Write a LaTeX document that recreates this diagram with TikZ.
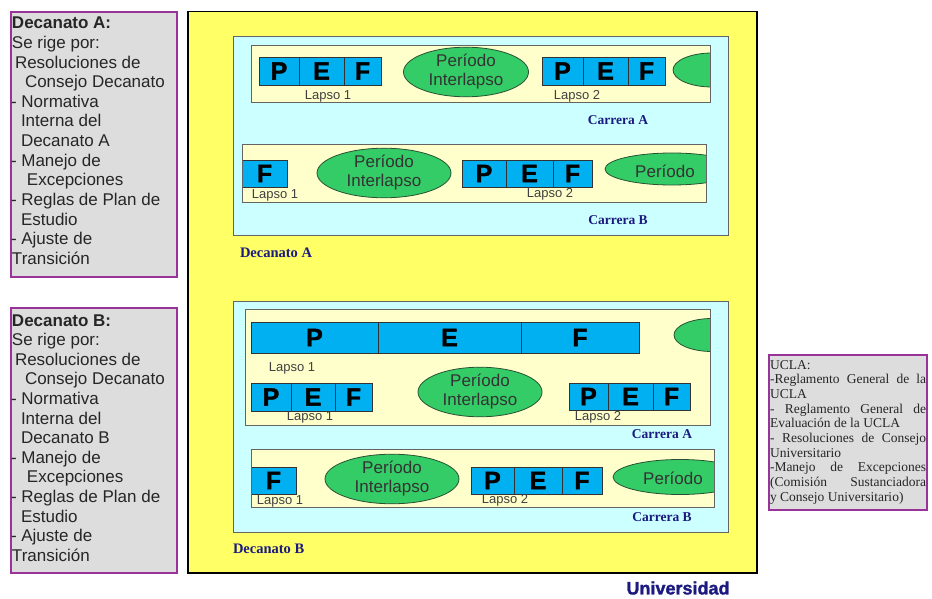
\documentclass[tikz,border=0pt]{standalone}
\usepackage{fontspec}
\setmainfont{Liberation Sans}
\newfontfamily\serifx{Liberation Serif}
\newfontfamily\heavyfont[FakeBold=1.5]{Liberation Sans}
\usetikzlibrary{shapes.geometric}

\definecolor{yel}{RGB}{255,255,102}
\definecolor{cyanl}{RGB}{204,255,255}
\definecolor{cream}{RGB}{255,255,204}
\definecolor{cellblue}{RGB}{0,176,240}
\definecolor{ovalgreen}{RGB}{51,204,102}
\definecolor{ovaledge}{RGB}{40,80,50}
\definecolor{boxgray}{RGB}{221,221,221}
\definecolor{purp}{RGB}{153,51,153}
\definecolor{navy}{RGB}{26,26,128}
\definecolor{edgegray}{RGB}{100,100,100}

\tikzset{
  every node/.style={inner sep=0pt, outer sep=0pt},
  rulebox/.style={draw=purp, line width=1.5pt, fill=boxgray},
  univbox/.style={fill=yel, draw=black, line width=1pt},
  decbox/.style={fill=cyanl, draw=edgegray, line width=0.8pt},
  strip/.style={fill=cream, draw=edgegray, line width=0.8pt},
  stripedge/.style={draw=edgegray, line width=0.8pt},
  cell/.style={fill=cellblue, draw=black!80, line width=0.6pt, font=\heavyfont\bfseries\fontsize{25}{25}\selectfont},
  oval/.style={ellipse, fill=ovalgreen, draw=ovaledge, line width=0.8pt, align=center, text=black!80, font=\fontsize{17}{19}\selectfont},
  ovaltext/.style={text=black!80, font=\fontsize{17}{19}\selectfont},
  lapso/.style={text=black!75, font=\fontsize{13}{13}\selectfont},
  carrera/.style={text=navy, font=\serifx\bfseries\fontsize{13.5}{13.5}\selectfont},
  declabel/.style={text=navy, font=\serifx\bfseries\fontsize{14.5}{14.5}\selectfont, anchor=west},
  ruletext/.style={text=black!85, font=\fontsize{17}{19.6}\selectfont, anchor=base west},
  uclatext/.style={text=black!85, font=\serifx\fontsize{13.5}{14.7}\selectfont, anchor=base west},
  univlabel/.style={text=navy, font=\heavyfont\bfseries\fontsize{18}{18}\selectfont}
}

\newcommand\rnode[6]{\node[#1, anchor=north west, minimum width={(#4)-(#2)}, minimum height={(#5)-(#3)}] (#6) at (#2,#3) {};}
\newcommand\cellnode[6]{\node[cell, anchor=north west, minimum width={(#3)-(#2)}, minimum height={(#5)-(#4)}] (#1) at (#2,#4) {#6};}
\newcommand\pefrow[7]{\cellnode{#1p}{#2}{#3}{#6}{#7}{P}\cellnode{#1e}{#3}{#4}{#6}{#7}{E}\cellnode{#1f}{#4}{#5}{#6}{#7}{F}}

\begin{document}
\begin{tikzpicture}[x=1pt,y=-1pt]
\useasboundingbox (0,0) rectangle (932,599);

% ---------- left rule boxes ----------
\rnode{rulebox}{11}{12}{177}{277}{ruleA}
\foreach \dx/\t [count=\i] in {12/{\bfseries Decanato A:}, 12/{Se rige por:}, 15/{Resoluciones de}, 25/{Consejo Decanato}, 11/{- Normativa}, 21/{Interna del}, 21/{Decanato A}, 11/{- Manejo de}, 27/{Excepciones}, 11/{- Reglas de Plan de}, 21/{Estudio}, 11/{- Ajuste de}, 12/{Transición}}
  \node[ruletext] (ta\i) at (\dx, {29+19.6*(\i-1)}) {\t};

\rnode{rulebox}{11}{308}{177}{573}{ruleB}
\foreach \dx/\t [count=\i] in {12/{\bfseries Decanato B:}, 12/{Se rige por:}, 15/{Resoluciones de}, 25/{Consejo Decanato}, 11/{- Normativa}, 21/{Interna del}, 21/{Decanato B}, 11/{- Manejo de}, 27/{Excepciones}, 11/{- Reglas de Plan de}, 21/{Estudio}, 11/{- Ajuste de}, 12/{Transición}}
  \node[ruletext] (tb\i) at (\dx, {326+19.6*(\i-1)}) {\t};

% ---------- university box ----------
\rnode{univbox}{188}{12}{757}{573}{univ}
\draw[line width=2.5pt, line cap=rect] (univ.north east) -- (univ.south east) -- (univ.south west) -- (univ.north west);
\node[univlabel] (univlab) at (678,588) {Universidad};

% ================= Decanato A =================
\rnode{decbox}{233}{36}{728}{235}{decA}
\node[declabel] (decAlab) at (240,253) {Decanato A};

% Carrera A
\rnode{strip}{251}{45}{710}{102}{sA1}
\pefrow{a1l1}{259}{299}{344}{381}{57}{85}
\node[lapso] (a1lap1) at (328,96) {Lapso 1};
\node[oval, minimum width=125, minimum height=48] (a1int) at (466,72) {Período\\Interlapso};
\pefrow{a1l2}{542}{583}{628}{665}{57}{85}
\node[lapso] (a1lap2) at (577,96) {Lapso 2};
\begin{scope}
  \clip (sA1.north west) rectangle (sA1.south east);
  \node[oval, minimum width=78, minimum height=34] (a1half) at (712,70) {};
\end{scope}
\draw[stripedge] (sA1.north west) rectangle (sA1.south east);
\node[carrera] (a1car) at (618,120) {Carrera A};

% Carrera B
\rnode{strip}{242}{144}{706}{202}{sA2}
\cellnode{a2f}{242}{287}{160}{187}{F}
\node[lapso] (a2lap1) at (275,195) {Lapso 1};
\node[oval, minimum width=134, minimum height=48] (a2int) at (384,173) {Período\\Interlapso};
\pefrow{a2l2}{462}{506}{553}{592}{160}{187}
\node[lapso] (a2lap2) at (550,194) {Lapso 2};
\begin{scope}
  \clip (sA2.north west) rectangle (sA2.south east);
  \node[oval, minimum width=134, minimum height=32] (a2per) at (672,169) {};
\end{scope}
\draw[stripedge] (sA2.north west) rectangle (sA2.south east);
\node[ovaltext] (a2pert) at (665,171) {Período};
\node[carrera] (a2car) at (618,220) {Carrera B};

% ================= Decanato B =================
\rnode{decbox}{233}{301}{728}{532}{decB}
\node[declabel] (decBlab) at (233,549) {Decanato B};

% Carrera A
\rnode{strip}{245}{309}{710}{425}{sB1}
\pefrow{b1big}{251}{378}{521}{639}{322}{353}
\node[lapso] (b1lapbig) at (292,368) {Lapso 1};
\begin{scope}
  \clip (sB1.north west) rectangle (sB1.south east);
  \node[oval, minimum width=76, minimum height=33] (b1half) at (712,335) {};
\end{scope}
\draw[stripedge] (sB1.north west) rectangle (sB1.south east);
\pefrow{b1l1}{251}{291}{335}{372}{383}{411}
\node[lapso] (b1lap1) at (310,417) {Lapso 1};
\node[oval, minimum width=124, minimum height=49] (b1int) at (480,392) {Período\\Interlapso};
\pefrow{b1l2}{569}{608}{653}{690}{383}{410}
\node[lapso] (b1lap2) at (598,417) {Lapso 2};
\node[carrera] (b1car) at (662,434) {Carrera A};

% Carrera B
\rnode{strip}{251}{449}{714}{507}{sB2}
\cellnode{b2f}{251}{296}{467}{494}{F}
\node[lapso] (b2lap1) at (280,501) {Lapso 1};
\node[oval, minimum width=134, minimum height=49] (b2int) at (392,479) {Período\\Interlapso};
\pefrow{b2l2}{471}{514}{562}{602}{467}{494}
\node[lapso] (b2lap2) at (505,500) {Lapso 2};
\begin{scope}
  \clip (sB2.north west) rectangle (sB2.south east);
  \node[oval, minimum width=134, minimum height=35] (b2per) at (680,477) {};
\end{scope}
\draw[stripedge] (sB2.north west) rectangle (sB2.south east);
\node[ovaltext] (b2pert) at (673,478) {Período};
\node[carrera] (b2car) at (662,517) {Carrera B};

% ---------- UCLA box ----------
\rnode{rulebox}{769}{355}{927}{510}{ucla}
\node[uclatext] (u1) at (770,369) {UCLA:};
\node[uclatext] (u2) at (770,{369+14.7*1}) {\makebox[156pt][s]{-Reglamento General de la}};
\node[uclatext] (u3) at (770,{369+14.7*2}) {UCLA};
\node[uclatext] (u4) at (770,{369+14.7*3}) {\makebox[156pt][s]{- Reglamento General de}};
\node[uclatext] (u5) at (770,{369+14.7*4}) {Evaluación de la UCLA};
\node[uclatext] (u6) at (770,{369+14.7*5}) {\makebox[156pt][s]{- Resoluciones de Consejo}};
\node[uclatext] (u7) at (770,{369+14.7*6}) {Universitario};
\node[uclatext] (u8) at (770,{369+14.7*7}) {\makebox[156pt][s]{-Manejo de Excepciones}};
\node[uclatext] (u9) at (770,{369+14.7*8}) {\makebox[156pt][s]{(Comisión Sustanciadora}};
\node[uclatext] (u10) at (770,{369+14.7*9}) {y Consejo Universitario)};
\end{tikzpicture}
\end{document}
